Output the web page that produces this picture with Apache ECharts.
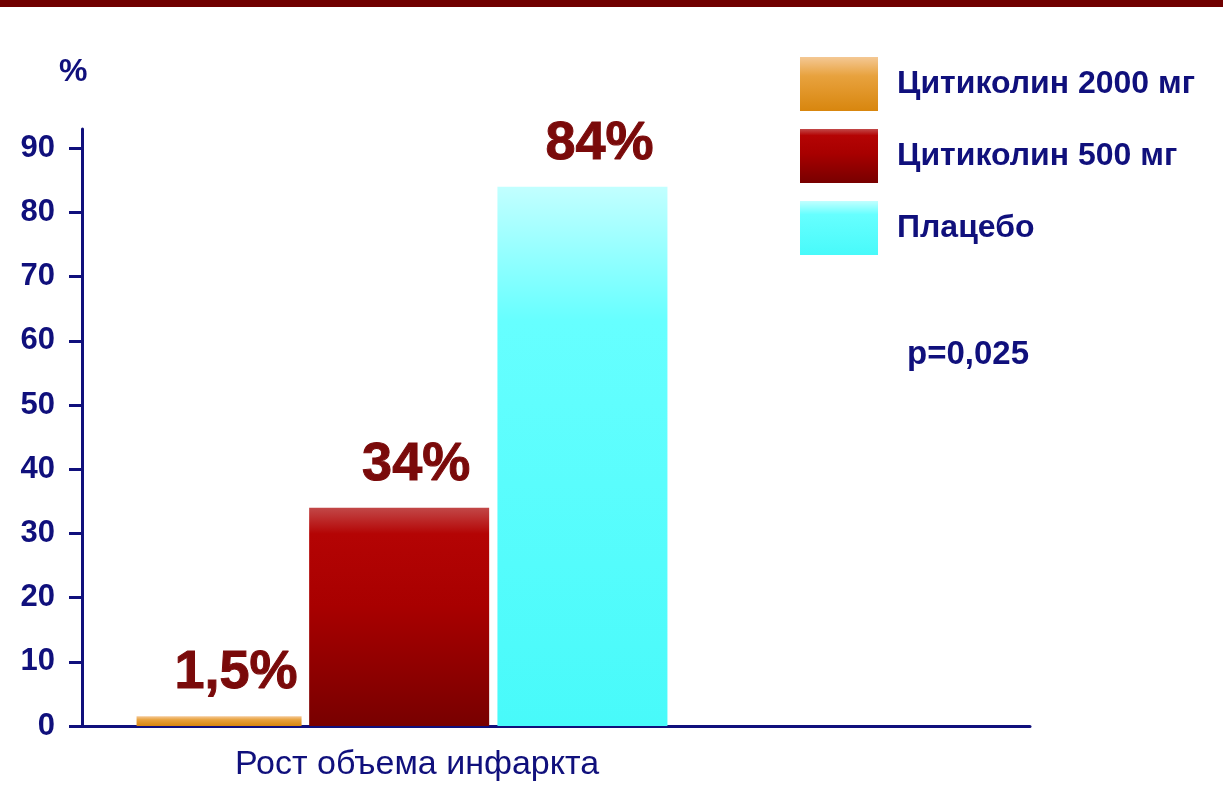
<!DOCTYPE html>
<html>
<head>
<meta charset="utf-8">
<script src="https://cdn.jsdelivr.net/npm/echarts@6/dist/echarts.min.js"></script>
<style>
html,body{margin:0;padding:0;background:#fff;}
#c{width:1223px;height:796px;}
</style>
</head>
<body>
<div id="c"></div>
<script>
const categories = ['Рост объема инфаркта'];
const seriesNames = ['Цитиколин 2000 мг', 'Цитиколин 500 мг', 'Плацебо'];
const citicoline2000 = [1.5];
const citicoline500 = [34];
const placebo = [84];
const yTicks = [0, 10, 20, 30, 40, 50, 60, 70, 80, 90];
const yUnit = '%';
const pText = 'p=0,025';

const NAVY = '#10107c';
const LABEL_RED = '#7a0a0a';
const FONT = 'Liberation Sans, Arial, sans-serif';

function grad(stops) {
  return new echarts.graphic.LinearGradient(0, 0, 0, 1, stops.map(s => ({offset: s[0], color: s[1]})));
}
const colors = [
  grad([[0, '#f4c894'], [0.35, '#e8a23e'], [1, '#d8860e']]),
  grad([[0, '#c24848'], [0.12, '#b40404'], [0.45, '#a80000'], [1, '#780000']]),
  grad([[0, '#c2ffff'], [0.25, '#66ffff'], [1, '#48fafa']])
];

const fmt = p => String(p.value).replace('.', ',') + '%';
const labelCfg = {
  show: true, position: 'top', distance: 16, offset: [17, 0],
  formatter: fmt, color: LABEL_RED, fontFamily: FONT, fontWeight: 'bold', fontSize: 54,
  textBorderColor: LABEL_RED, textBorderWidth: 1
};

const dataSets = [citicoline2000, citicoline500, placebo];
const widths = [165, 180, 170];

const chart = echarts.init(document.getElementById('c'));
chart.setOption({
  backgroundColor: '#ffffff',
  animation: false,
  grid: [
    {left: 82, right: 501, top: 129, bottom: 70},
    {left: 82, right: 193, top: 129, bottom: 70}
  ],
  legend: {
    orient: 'vertical', left: 800, top: 57, padding: 0,
    itemWidth: 78, itemHeight: 54, itemGap: 18, icon: 'rect',
    data: seriesNames,
    textStyle: {color: NAVY, fontSize: 32, fontWeight: 'bold', fontFamily: FONT, padding: [0, 0, 0, 14]}
  },
  xAxis: [
    {
      type: 'category', gridIndex: 0, data: categories,
      axisLine: {show: false}, axisTick: {show: false},
      axisLabel: {color: NAVY, fontSize: 34, fontFamily: FONT, margin: 22, padding: [0, 0, 0, 30]}
    },
    {
      type: 'value', gridIndex: 1, min: 0, max: 1,
      axisLine: {show: true, lineStyle: {color: NAVY, width: 3}},
      axisTick: {show: false}, axisLabel: {show: false}, splitLine: {show: false}
    }
  ],
  yAxis: [
    {
      type: 'value', gridIndex: 0, min: 0, max: 93,
      axisLine: {show: true, lineStyle: {color: NAVY, width: 3}},
      axisTick: {show: true, length: 13, lineStyle: {color: NAVY, width: 3}, customValues: yTicks},
      axisLabel: {color: NAVY, fontSize: 31, fontWeight: 'bold', fontFamily: FONT, margin: 27, customValues: yTicks},
      splitLine: {show: false}
    },
    {type: 'value', gridIndex: 1, min: 0, max: 1, show: false}
  ],
  series: seriesNames.map((n, i) => ({
    type: 'bar', name: n, xAxisIndex: 0, yAxisIndex: 0,
    data: dataSets[i], barWidth: widths[i], barGap: '4.6%',
    itemStyle: {color: colors[i]},
    label: labelCfg
  })),
  graphic: [
    {type: 'rect', left: 0, top: 0, shape: {width: 1223, height: 7}, style: {fill: '#700000'}},
    {type: 'text', left: 59, top: 56, style: {text: yUnit, fill: NAVY, fontSize: 32, fontWeight: 'bold', fontFamily: FONT}},
    {type: 'text', left: 907, top: 338, style: {text: pText, fill: NAVY, fontSize: 33, fontWeight: 'bold', fontFamily: FONT}}
  ]
});
</script>
</body>
</html>
